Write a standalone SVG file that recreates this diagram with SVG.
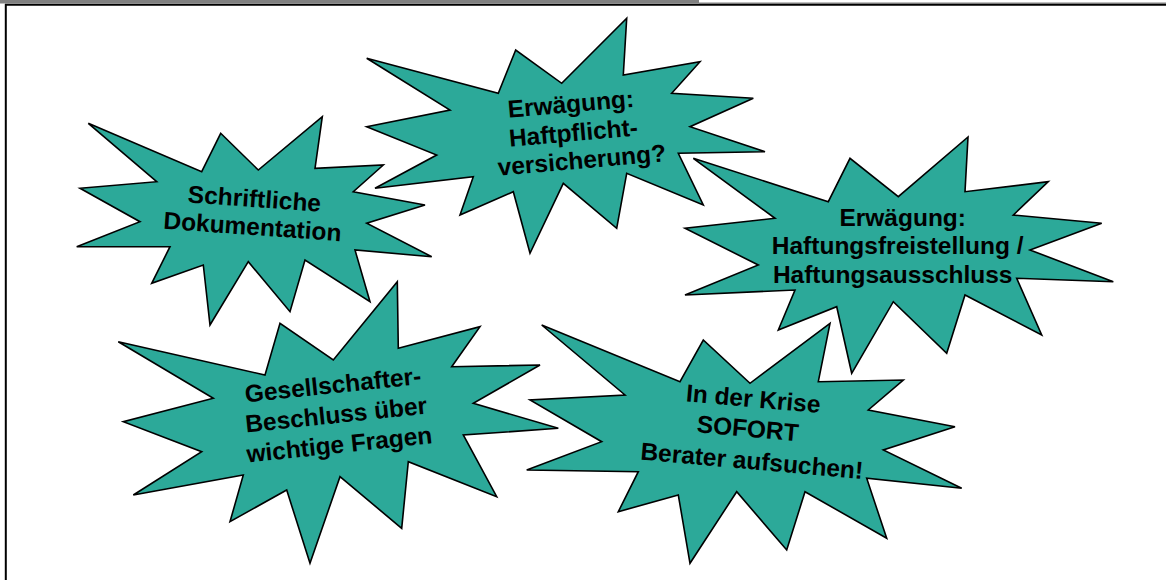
<svg xmlns="http://www.w3.org/2000/svg" width="1166" height="580" viewBox="0 0 1166 580">
<style>
.star{fill:#2ca999;stroke:#000;stroke-width:1.6;stroke-linejoin:miter}
.lbl{font-family:"Liberation Sans",Arial,sans-serif;font-weight:bold;font-size:24.5px;fill:#000;text-anchor:middle}
</style>
<rect x="0" y="0" width="1166" height="580" fill="#fff"/>
<g id="frame">
<rect x="0" y="0" width="699" height="3.5" fill="#808080"/>
<rect x="699" y="2.5" width="467" height="1.2" fill="#808080"/>
<line x1="5" y1="4.8" x2="1166" y2="4.8" stroke="#000" stroke-width="2"/>
<line x1="5.8" y1="4" x2="5.8" y2="580" stroke="#000" stroke-width="2"/>
</g>
<g id="connectors"></g>
<g id="node-dokumentation">
<polygon class="star" points="88.3,123.3 201.7,171.7 220.7,133.3 258.3,170 322.3,116.7 315,168.3 383.3,165 353.3,191.7 425,205 366.7,223.3 431.7,256.7 355,250 370,301.7 305,260 290,311.7 248.3,261.7 210,325 203.3,265 151.7,283.3 170,246.7 76.7,246.7 140,221.7 80,188.3 156.7,181.7"/>
<text class="lbl" transform="rotate(4 253 220)"><tspan x="253" y="207">Schriftliche</tspan><tspan x="253" y="235">Dokumentation</tspan></text>
</g>
<g id="node-haftpflicht">
<polygon class="star" points="366.7,58.3 498.3,93.3 515.7,50 561.7,83.3 626.7,18.3 623.3,75 700,61.7 671.7,93.3 753.3,98.3 690,126.7 765,151.7 678.3,153.3 703.3,205 626.7,173.3 616.7,228.3 563.3,183.3 530,253.3 513.3,191.7 460,215 473.3,176.7 375,188.3 436.7,155 366.7,126.7 450,110"/>
<text class="lbl" transform="rotate(-5 575 140)"><tspan x="574" y="112">Erwägung:</tspan><tspan x="574" y="141">Haftpflicht-</tspan><tspan x="580" y="169">versicherung?</tspan></text>
</g>
<g id="node-haftungsfreistellung">
<polygon class="star" points="693.3,158.3 828.3,201.7 850,158.3 898.3,196.7 968,137 965,191.7 1048.3,181.7 1013.3,215 1101.7,223.3 1030,250 1113.3,281.7 1016.7,278.3 1041.7,335 965,295 946.7,353.3 893.3,301.7 851.7,373.3 836.7,306.7 778.3,330 795,290 685,295 758.3,265 685,228.3 775,218.3"/>
<text class="lbl"><tspan x="902.7" y="226">Erwägung:</tspan><tspan x="897.7" y="254.3">Haftungsfreistellung /</tspan><tspan x="892.7" y="282.7">Haftungsausschluss</tspan></text>
</g>
<g id="node-gesellschafter">
<polygon class="star" points="118.3,341.7 265,375 280,323.3 333.3,360 397.3,281.7 398.3,348.3 480,326.7 451.7,366.7 540,365 473.3,403.3 558.3,428.3 463.3,435 496.7,496.7 408.3,461.7 401.7,528.3 340,476.7 310,563.3 286.7,490 230,521.7 243.3,475 133.3,495 201.7,451.7 123.3,421.7 213.3,398.3"/>
<text class="lbl" transform="rotate(-6 337 423)"><tspan x="337" y="393">Gesellschafter-</tspan><tspan x="337" y="423">Beschluss über</tspan><tspan x="337" y="453">wichtige Fragen</tspan></text>
</g>
<g id="node-krise">
<polygon class="star" points="541.7,325 680,381.7 703.3,340 750,383.3 830,323.3 818.3,381.7 903.3,380 868.3,410 955,426.7 883.3,450 961.7,488.3 866.7,478.3 886.7,538.3 805,491.7 786.7,550 736.7,491.7 690,563.3 678.3,495 618.3,511.7 638.3,471.7 526.7,470 601.7,441.7 530,400 625,395"/>
<text class="lbl" transform="rotate(5 750 437)"><tspan x="750" y="407">In der Krise</tspan><tspan x="747" y="437">SOFORT</tspan><tspan x="754" y="469">Berater aufsuchen!</tspan></text>
</g>
</svg>
